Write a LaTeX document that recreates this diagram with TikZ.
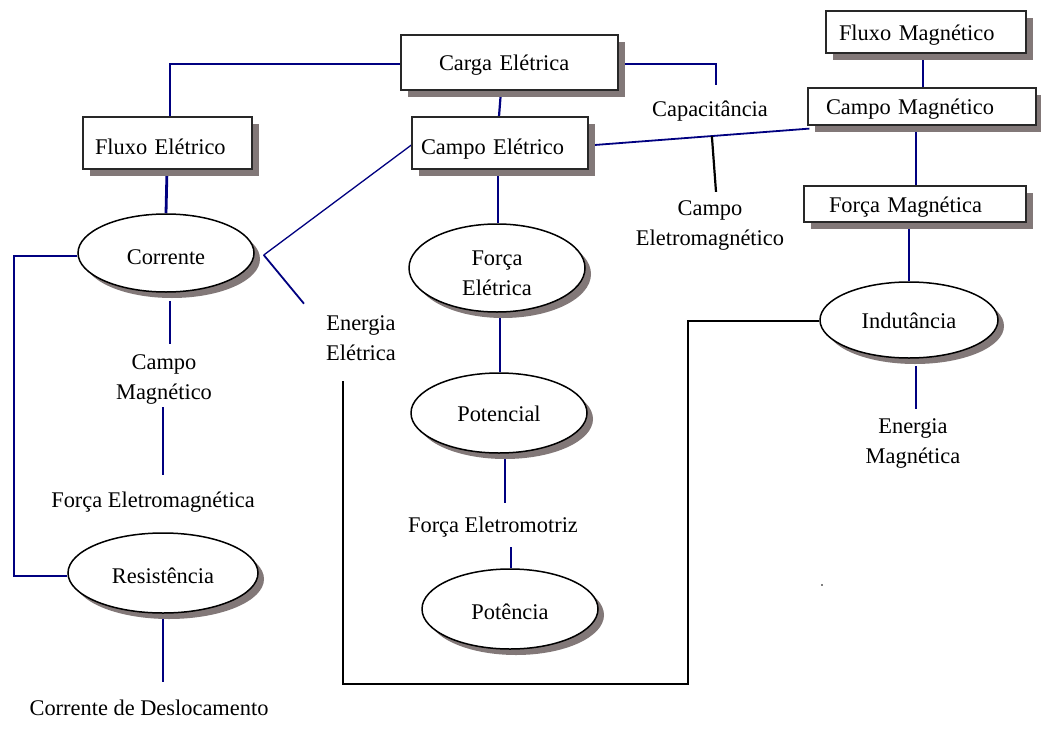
\documentclass[tikz,border=0pt]{standalone}
\usepackage{fontspec}
\setmainfont{Liberation Serif}
\usetikzlibrary{shapes.geometric,shadows,backgrounds,calc}
\definecolor{linkblue}{RGB}{0,0,128}
\definecolor{shadowgrey}{RGB}{130,120,120}
\definecolor{framegrey}{RGB}{40,40,40}
\tikzset{
  every node/.style={font=\fontsize{22.4}{30}\selectfont},
  conceptbox/.style={draw=framegrey, line width=1.2pt, fill=white, rectangle,
    inner ysep=0pt, align=left, text height=21.5pt, text depth=4.9pt,
    drop shadow={shadow xshift=7pt, shadow yshift=-7pt, fill=shadowgrey, opacity=1}},
  conceptoval/.style={draw=black, line width=1.5pt, fill=white, ellipse,
    inner sep=0pt, align=center, text height=21pt, text depth=0pt,
    drop shadow={shadow xshift=6pt, shadow yshift=-6pt, fill=shadowgrey, opacity=1}},
  term/.style={inner sep=0pt, text height=15.5pt, text depth=4.9pt},
  termtwo/.style={inner sep=0pt, align=center},
  link/.style={draw=linkblue, line width=#1},
  link/.default=1.8pt,
  plainlink/.style={draw=black, line width=#1},
  plainlink/.default=2pt,
}
\begin{document}
\begin{tikzpicture}[x=1pt,y=-1pt]
\useasboundingbox (0,0) rectangle (1041,731);

% rectangular concepts
\node[conceptbox, text width=141pt, inner xsep=38pt, minimum height=55pt] (carga) at (509.5,62.5) {Carga Elétrica};
\node[conceptbox, text width=145pt, inner xsep=12pt, minimum height=52pt, text height=27pt] (fluxoE) at (167.5,143) {Fluxo Elétrico};
\node[conceptbox, text width=158pt, inner xsep=9pt, minimum height=52pt, text height=27pt] (campoE) at (500,143) {Campo Elétrico};
\node[conceptbox, text width=174pt, inner xsep=13pt, minimum height=42pt] (fluxoM) at (926,32) {Fluxo Magnético};
\node[conceptbox, text width=192pt, inner xsep=18pt, minimum height=37pt] (campoM) at (922,106.5) {Campo Magnético};
\node[conceptbox, text width=172pt, inner xsep=25pt, minimum height=36pt] (forcaM) at (915,204) {Força Magnética};

% oval concepts
\node[conceptoval, minimum width=176pt, minimum height=78pt, text height=23pt] (corr) at (166,253) {Corrente};
\node[conceptoval, minimum width=176pt, minimum height=88pt, text height=54pt] (forcaE) at (497,268) {Força\\Elétrica};
\node[conceptoval, minimum width=176pt, minimum height=80pt, text height=16pt] (pot) at (499,413) {Potencial};
\node[conceptoval, minimum width=176pt, minimum height=80pt] (potc) at (510,609) {Potência};
\node[conceptoval, minimum width=190pt, minimum height=80pt] (resist) at (163,573) {Resistência};
\node[conceptoval, minimum width=178pt, minimum height=76pt, text height=17pt] (indut) at (909,320) {Indutância};

% free terms
\node[term] (capac) at (710,111) {Capacitância};
\node[termtwo] (cem) at (710,225.5) {Campo\\Eletromagnético};
\node[termtwo] (energE) at (361,338) {Energia\\Elétrica};
\node[termtwo] (cmagt) at (164,379.5) {Campo\\Magnético};
\node[term] (forcaEM) at (153,502) {Força Eletromagnética};
\node[term] (corrD) at (149,710) {Corrente de Deslocamento};
\node[term] (fem) at (493,527) {Força Eletromotriz};
\node[termtwo] (energM) at (913,443.5) {Energia\\Magnética};

\fill[gray] (821,584) rectangle (823,586);

\begin{pgfonlayer}{background}
  \fill[white] (0,0) rectangle (1041,731);

  % electric branch
  \draw[link=1.8pt] ([yshift=-1.5pt]carga.west) -| ([xshift=2.5pt]fluxoE.north);
  \draw[link=2pt] ([yshift=-1.5pt]carga.east) -| ([xshift=6pt,yshift=15.8pt]capac.north);
  \draw[link=2.2pt] ([xshift=-8.5pt]carga.south) -- ([xshift=-1pt]campoE.north);
  \draw[link=2.8pt] ([xshift=-0.5pt]fluxoE.south) -- (corr.north);

  \coordinate (cjun) at ([xshift=9pt,yshift=-2pt]corr.east);
  \draw[link=1.3pt] (cjun) -- ([yshift=-2pt]campoE.west);
  \draw[link=1.8pt] (cjun) -- ([xshift=-22pt,yshift=11.6pt]energE.north west);

  \draw[link=2.4pt] ([yshift=-3pt]corr.west) -- (14,256) |- ([yshift=-3pt]resist.west);
  \draw[link=1.6pt] ([xshift=4pt,yshift=-8pt]corr.south) -- ([xshift=6pt,yshift=10.6pt]cmagt.north);
  \draw[link=2.2pt] ([xshift=-1pt,yshift=-2.7pt]cmagt.south) -- ([xshift=10pt,yshift=16.8pt]forcaEM.north);
  \draw[link=2.4pt] ([yshift=-5pt]resist.south) -- ([xshift=14pt,yshift=17.8pt]corrD.north);

  \draw[link=2.6pt] ([xshift=-2pt]campoE.south) -- ([xshift=1pt]forcaE.north);
  \draw[link=1.4pt] ([xshift=3pt]forcaE.south) -- ([xshift=1pt]pot.north);
  \draw[link=1.6pt] ([xshift=6pt,yshift=-5pt]pot.south) -- ([xshift=12pt,yshift=13.8pt]fem.north);
  \draw[link=2.8pt] ([xshift=18pt,yshift=-9.8pt]fem.south) -- ([xshift=1pt]potc.north);

  % electric field to magnetic field
  \draw[link=1.8pt] ([xshift=6pt,yshift=-2pt]campoE.east) -- coordinate[pos=0.546] (emj) ([xshift=2pt,yshift=-3pt]campoM.south west);
  \draw[plainlink=2.2pt] (emj) -- ([xshift=6pt,yshift=8.6pt]cem.north);

  % magnetic branch
  \draw[link=1.5pt] ([xshift=-3pt]fluxoM.south) -- ([xshift=1pt]campoM.north);
  \draw[link=2.4pt] ([xshift=-6pt]campoM.south) -- ([xshift=1pt]forcaM.north);
  \draw[link=1.4pt] ([xshift=-6pt]forcaM.south) -- (indut.north);
  \draw[link=2.4pt] ([xshift=7pt,yshift=-7pt]indut.south) -- ([xshift=3pt,yshift=9.6pt]energM.north);

  % energy loop
  \draw[plainlink=2pt] ([xshift=-18pt,yshift=-20.6pt]energE.south) |- (688,684) |- ([yshift=-1pt]indut.west);
\end{pgfonlayer}
\end{tikzpicture}
\end{document}
